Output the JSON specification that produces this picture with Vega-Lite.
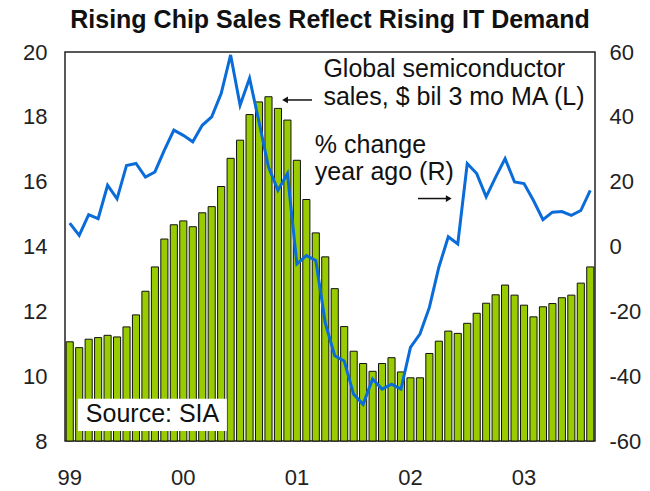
{
  "$schema": "https://vega.github.io/schema/vega-lite/v6.json",
  "width": 530,
  "height": 389,
  "autosize": {"type": "none"},
  "padding": {"left": 65, "top": 52, "right": 55, "bottom": 50},
  "background": "white",
  "config": {
    "view": {"stroke": "#222", "strokeWidth": 1.5},
    "font": "Liberation Sans",
    "axis": {"labelFont": "Liberation Sans", "labelColor": "#222", "labelFontSize": 22, "grid": false, "ticks": false, "domain": false, "title": null}
  },
  "title": {
    "text": "Rising Chip Sales Reflect Rising IT Demand",
    "font": "Liberation Sans",
    "fontSize": 25,
    "fontWeight": "bold",
    "color": "#111",
    "anchor": "middle",
    "offset": 8
  },
  "data": {
    "values": [
      {"m": "1999-01", "sales": 11.06, "pct": 7.2},
      {"m": "1999-02", "sales": 10.88, "pct": 3.4},
      {"m": "1999-03", "sales": 11.14, "pct": 9.8},
      {"m": "1999-04", "sales": 11.19, "pct": 8.6},
      {"m": "1999-05", "sales": 11.26, "pct": 18.9},
      {"m": "1999-06", "sales": 11.21, "pct": 14.7},
      {"m": "1999-07", "sales": 11.52, "pct": 25.0},
      {"m": "1999-08", "sales": 11.89, "pct": 25.6},
      {"m": "1999-09", "sales": 12.62, "pct": 21.4},
      {"m": "1999-10", "sales": 13.37, "pct": 23.0},
      {"m": "1999-11", "sales": 14.23, "pct": 29.7},
      {"m": "1999-12", "sales": 14.67, "pct": 35.9},
      {"m": "2000-01", "sales": 14.79, "pct": 34.3},
      {"m": "2000-02", "sales": 14.61, "pct": 32.3},
      {"m": "2000-03", "sales": 15.04, "pct": 37.4},
      {"m": "2000-04", "sales": 15.23, "pct": 40.0},
      {"m": "2000-05", "sales": 15.85, "pct": 47.2},
      {"m": "2000-06", "sales": 16.72, "pct": 59.1},
      {"m": "2000-07", "sales": 17.28, "pct": 43.6},
      {"m": "2000-08", "sales": 18.07, "pct": 51.9},
      {"m": "2000-09", "sales": 18.46, "pct": 38.4},
      {"m": "2000-10", "sales": 18.62, "pct": 24.5},
      {"m": "2000-11", "sales": 18.26, "pct": 17.3},
      {"m": "2000-12", "sales": 17.9, "pct": 22.5},
      {"m": "2001-01", "sales": 16.66, "pct": -5.4},
      {"m": "2001-02", "sales": 15.45, "pct": -2.8},
      {"m": "2001-03", "sales": 14.42, "pct": -4.3},
      {"m": "2001-04", "sales": 13.68, "pct": -23.6},
      {"m": "2001-05", "sales": 12.7, "pct": -33.7},
      {"m": "2001-06", "sales": 11.53, "pct": -35.3},
      {"m": "2001-07", "sales": 10.77, "pct": -45.6},
      {"m": "2001-08", "sales": 10.39, "pct": -48.7},
      {"m": "2001-09", "sales": 10.15, "pct": -40.9},
      {"m": "2001-10", "sales": 10.39, "pct": -44.0},
      {"m": "2001-11", "sales": 10.57, "pct": -42.5},
      {"m": "2001-12", "sales": 10.13, "pct": -44.0},
      {"m": "2002-01", "sales": 9.95, "pct": -31.1},
      {"m": "2002-02", "sales": 9.95, "pct": -27.0},
      {"m": "2002-03", "sales": 10.7, "pct": -18.8},
      {"m": "2002-04", "sales": 11.08, "pct": -6.4},
      {"m": "2002-05", "sales": 11.39, "pct": 3.0},
      {"m": "2002-06", "sales": 11.32, "pct": 0.8},
      {"m": "2002-07", "sales": 11.63, "pct": 25.6},
      {"m": "2002-08", "sales": 11.94, "pct": 22.5},
      {"m": "2002-09", "sales": 12.25, "pct": 15.3},
      {"m": "2002-10", "sales": 12.51, "pct": 21.4},
      {"m": "2002-11", "sales": 12.81, "pct": 27.1},
      {"m": "2002-12", "sales": 12.5, "pct": 19.9},
      {"m": "2003-01", "sales": 12.19, "pct": 19.4},
      {"m": "2003-02", "sales": 11.83, "pct": 14.2},
      {"m": "2003-03", "sales": 12.14, "pct": 8.3},
      {"m": "2003-04", "sales": 12.24, "pct": 10.6},
      {"m": "2003-05", "sales": 12.42, "pct": 10.8},
      {"m": "2003-06", "sales": 12.5, "pct": 9.6},
      {"m": "2003-07", "sales": 12.87, "pct": 11.1},
      {"m": "2003-08", "sales": 13.37, "pct": 17.3}
    ]
  },
  "layer": [
    {
      "mark": {"type": "bar", "fill": "#99CC00", "stroke": "#111", "strokeWidth": 1},
      "encoding": {
        "x": {
          "field": "m", "type": "ordinal",
          "scale": {"paddingInner": 0.25, "paddingOuter": 0.125},
          "axis": {
            "values": ["1999-01", "2000-01", "2001-01", "2002-01", "2003-01"],
            "labelExpr": "slice(datum.value, 2, 4)",
            "labelAngle": 0,
            "labelPadding": 26
          }
        },
        "y": {
          "field": "sales", "type": "quantitative",
          "scale": {"domain": [8, 20], "zero": false, "nice": false},
          "axis": {"orient": "left", "values": [8, 10, 12, 14, 16, 18, 20], "labelPadding": 18}
        },
        "y2": {"datum": 8}
      }
    },
    {
      "mark": {"type": "line", "color": "#0A6CD8", "strokeWidth": 3, "strokeJoin": "miter"},
      "encoding": {
        "x": {"field": "m", "type": "ordinal", "scale": {"paddingInner": 0.25, "paddingOuter": 0.125}, "axis": null},
        "y": {
          "field": "pct", "type": "quantitative",
          "scale": {"domain": [-60, 60], "nice": false},
          "axis": {
            "orient": "right",
            "values": [-60, -40, -20, 0, 20, 40, 60],
            "labelPadding": 14,
            "labelExpr": "datum.value < 0 ? '-' + abs(datum.value) : '' + datum.value"
          }
        }
      }
    },
    {
      "data": {"values": [{}]},
      "layer": [
        {
          "mark": {"type": "rect", "fill": "white"},
          "encoding": {
            "x": {"datum": 1.37, "type": "quantitative", "scale": {"domain": [0, 56]}, "axis": null},
            "x2": {"datum": 17.1},
            "y": {"datum": 9.3, "type": "quantitative", "scale": {"domain": [8, 20]}, "axis": null},
            "y2": {"datum": 8.31}
          }
        },
        {
          "mark": {"type": "text", "align": "left", "baseline": "middle", "fontSize": 25, "color": "#111"},
          "encoding": {
            "x": {"datum": 2.2, "type": "quantitative", "scale": {"domain": [0, 56]}, "axis": null},
            "y": {"datum": 8.83, "type": "quantitative", "scale": {"domain": [8, 20]}, "axis": null},
            "text": {"value": "Source: SIA"}
          }
        },
        {
          "mark": {"type": "text", "align": "left", "baseline": "alphabetic", "fontSize": 25, "color": "#111"},
          "encoding": {
            "x": {"datum": 27.3, "type": "quantitative", "scale": {"domain": [0, 56]}, "axis": null},
            "y": {"datum": 19.24, "type": "quantitative", "scale": {"domain": [8, 20]}, "axis": null},
            "text": {"value": "Global semiconductor"}
          }
        },
        {
          "mark": {"type": "text", "align": "left", "baseline": "alphabetic", "fontSize": 25, "color": "#111"},
          "encoding": {
            "x": {"datum": 27.3, "type": "quantitative", "scale": {"domain": [0, 56]}, "axis": null},
            "y": {"datum": 18.36, "type": "quantitative", "scale": {"domain": [8, 20]}, "axis": null},
            "text": {"value": "sales, $ bil 3 mo MA (L)"}
          }
        },
        {
          "mark": {"type": "text", "align": "left", "baseline": "alphabetic", "fontSize": 25, "color": "#111"},
          "encoding": {
            "x": {"datum": 26.4, "type": "quantitative", "scale": {"domain": [0, 56]}, "axis": null},
            "y": {"datum": 16.88, "type": "quantitative", "scale": {"domain": [8, 20]}, "axis": null},
            "text": {"value": "% change"}
          }
        },
        {
          "mark": {"type": "text", "align": "left", "baseline": "alphabetic", "fontSize": 25, "color": "#111"},
          "encoding": {
            "x": {"datum": 26.4, "type": "quantitative", "scale": {"domain": [0, 56]}, "axis": null},
            "y": {"datum": 16.04, "type": "quantitative", "scale": {"domain": [8, 20]}, "axis": null},
            "text": {"value": "year ago (R)"}
          }
        },
        {
          "mark": {"type": "rule", "color": "#111", "strokeWidth": 1.5},
          "encoding": {
            "x": {"datum": 23.3, "type": "quantitative", "scale": {"domain": [0, 56]}, "axis": null},
            "x2": {"datum": 26.1},
            "y": {"datum": 18.52, "type": "quantitative", "scale": {"domain": [8, 20]}, "axis": null}
          }
        },
        {
          "mark": {"type": "point", "shape": "triangle-left", "filled": true, "color": "#111", "size": 45, "opacity": 1},
          "encoding": {
            "x": {"datum": 23.25, "type": "quantitative", "scale": {"domain": [0, 56]}, "axis": null},
            "y": {"datum": 18.52, "type": "quantitative", "scale": {"domain": [8, 20]}, "axis": null}
          }
        },
        {
          "mark": {"type": "rule", "color": "#111", "strokeWidth": 1.5},
          "encoding": {
            "x": {"datum": 37.3, "type": "quantitative", "scale": {"domain": [0, 56]}, "axis": null},
            "x2": {"datum": 40.4},
            "y": {"datum": 15.48, "type": "quantitative", "scale": {"domain": [8, 20]}, "axis": null}
          }
        },
        {
          "mark": {"type": "point", "shape": "triangle-right", "filled": true, "color": "#111", "size": 45, "opacity": 1},
          "encoding": {
            "x": {"datum": 40.55, "type": "quantitative", "scale": {"domain": [0, 56]}, "axis": null},
            "y": {"datum": 15.48, "type": "quantitative", "scale": {"domain": [8, 20]}, "axis": null}
          }
        }
      ]
    }
  ],
  "resolve": {"scale": {"x": "independent", "y": "independent"}}
}
